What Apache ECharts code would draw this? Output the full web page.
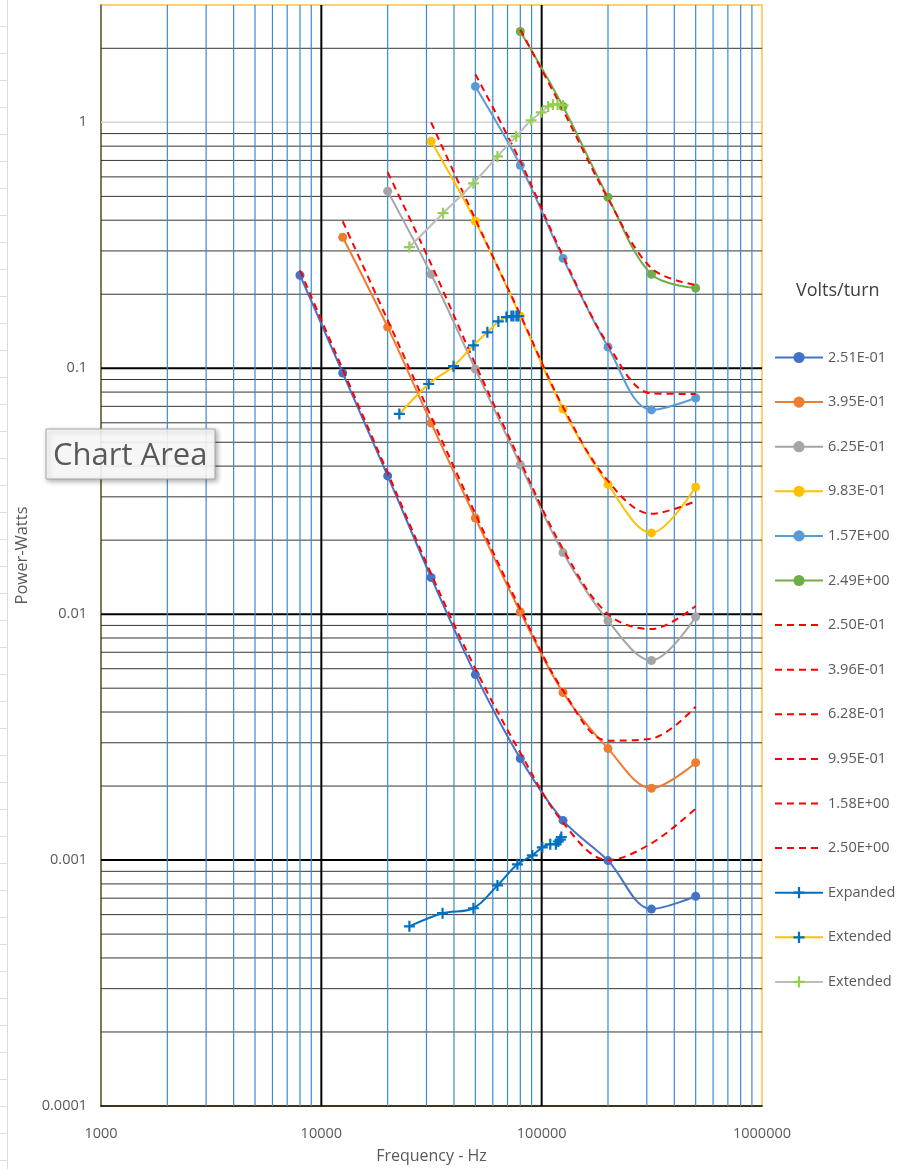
<!DOCTYPE html>
<html>
<head>
<meta charset="utf-8">
<script src="https://cdn.jsdelivr.net/npm/echarts@6/dist/echarts.min.js"></script>
<style>
  html, body { margin: 0; padding: 0; background: #ffffff; }
  #chart { width: 898px; height: 1169px; }
</style>
</head>
<body>
<div id="chart"></div>
<script>
// ---- Data -------------------------------------------------------------
// Test frequencies (Hz); every curve ends at the last one.
const freqs = [8000, 12500, 20000, 31500, 50000, 80000, 125000, 200000, 315000, 500000];

// Measured power (W) per volts/turn level
const p251 = [0.239, 0.0957, 0.0365, 0.0141, 0.00568, 0.00259, 0.00145, 0.000995, 0.000632, 0.000713];
const p395 = [0.341, 0.147, 0.0599, 0.0246, 0.0102, 0.0048, 0.00284, 0.00196, 0.00249];
const p625 = [0.525, 0.241, 0.0993, 0.0405, 0.0178, 0.0094, 0.00648, 0.00975];
const p983 = [0.837, 0.396, 0.163, 0.0683, 0.0337, 0.0214, 0.0329];
const p157 = [1.40, 0.669, 0.280, 0.122, 0.0677, 0.0757];
const p249 = [2.34, 1.16, 0.496, 0.241, 0.212];

// Calculated power (W) per volts/turn level
const t250 = [0.250, 0.099, 0.0376, 0.0146, 0.0060, 0.00273, 0.00142, 0.00100, 0.00117, 0.00162];
const t396 = [0.396, 0.157, 0.0636, 0.0256, 0.0105, 0.0049, 0.00306, 0.00312, 0.00421];
const t628 = [0.627, 0.265, 0.104, 0.0419, 0.0184, 0.0100, 0.0087, 0.0108];
const t995 = [1.00, 0.404, 0.165, 0.0696, 0.0348, 0.0256, 0.0288];
const t158 = [1.57, 0.694, 0.286, 0.125, 0.079, 0.0786];
const t250b = [2.38, 1.12, 0.49, 0.255, 0.218];

// Expanded / extended sweeps
const fExpanded = [25100, 35500, 49000, 63000, 77600, 90700, 100700, 109400, 116000, 119000, 121500, 122800];
const pExpanded = [0.000538, 0.000608, 0.000637, 0.000789, 0.000961, 0.001045, 0.001127, 0.00116, 0.00116, 0.00119, 0.00121, 0.00124];
const fExtY = [22600, 30700, 39800, 49000, 56700, 63600, 69200, 72900, 74400, 76800, 78400];
const pExtY = [0.0652, 0.0863, 0.102, 0.124, 0.140, 0.155, 0.1615, 0.163, 0.163, 0.163, 0.163];
const fExtG = [25100, 35700, 49000, 63000, 76600, 89500, 99600, 107000, 112600, 118000, 125000];
const pExtG = [0.311, 0.427, 0.565, 0.727, 0.877, 1.019, 1.098, 1.161, 1.183, 1.183, 1.172];

// Series names (legend order)
const measuredNames = ['2.51E-01', '3.95E-01', '6.25E-01', '9.83E-01', '1.57E+00', '2.49E+00'];
const calcNames = ['2.50E-01', '3.96E-01', '6.28E-01', '9.95E-01', '1.58E+00', '2.50E+00'];
const sweepNames = ['Expanded', 'Extended', 'Extended\u200B'];

// Axis tick labels (one per decade)
const xTickLabels = ['1000', '10000', '100000', '1000000'];   // 10^3 .. 10^6
const yTickLabels = ['0.0001', '0.001', '0.01', '0.1', '1'];  // 10^-4 .. 10^0

// ---- Helpers ----------------------------------------------------------
const FONT = "'Open Sans', 'Liberation Sans', sans-serif";
const tail = vals => vals.map((v, i) => [freqs[freqs.length - vals.length + i], v]);
const zip = (xs, ys) => xs.map((x, i) => [x, ys[i]]);
const decadeFormatter = (labels, firstExp) => v => {
  const e = Math.log10(v);
  const r = Math.round(e);
  return Math.abs(e - r) < 1e-6 ? (labels[r - firstExp] || '') : '';
};
const PLUS = 'path://M4,0H6V4H10V6H6V10H4V6H0V4H4Z';

// Grid lines: decades plus 2..9 subdivisions
// kind: 0 = minor, 1 = major, 2 = unity line
const hLines = [];
for (let e = -4; e <= 0; e++) {
  const base = Math.pow(10, e);
  if (e > -4) hLines.push([1000, base, e === 0 ? 2 : 1]);
  for (let m = 2; m <= 9; m++) {
    const v = m * base;
    if (v < 3 - 1e-9) hLines.push([1000, +v.toPrecision(6), 0]);
  }
}
const vLines = [];
for (let e = 3; e <= 5; e++) {
  const base = Math.pow(10, e);
  if (e > 3) vLines.push([base, 1, 1]);
  for (let m = 2; m <= 9; m++) vLines.push([m * base, 1, 0]);
}

function hRender(params, api) {
  const cs = params.coordSys;
  const y = api.coord([1000, api.value(1)])[1];
  const kind = api.value(2);
  const style = kind === 1 ? { stroke: '#000000', lineWidth: 2 }
              : kind === 2 ? { stroke: '#d4d4d4', lineWidth: 1.5 }
              : { stroke: '#353535', lineWidth: 1 };
  return { type: 'line', shape: { x1: cs.x, y1: y, x2: cs.x + cs.width, y2: y }, style };
}
function vRender(params, api) {
  const cs = params.coordSys;
  const x = api.coord([api.value(0), 1])[0];
  const kind = api.value(2);
  const style = kind === 1 ? { stroke: '#000000', lineWidth: 2 }
              : { stroke: '#3a8ad6', lineWidth: 1.2 };
  return { type: 'line', shape: { x1: x, y1: cs.y, x2: x, y2: cs.y + cs.height }, style };
}

// ---- Series -----------------------------------------------------------
const measuredColors = ['#4472c4', '#ed7d31', '#a5a5a5', '#ffc000', '#5b9bd5', '#70ad47'];
const measuredData = [p251, p395, p625, p983, p157, p249];
const calcData = [t250, t396, t628, t995, t158, t250b];

const series = [
  { type: 'custom', name: 'hgrid', data: hLines, renderItem: hRender, silent: true, z: 1,
    encode: { x: 0, y: 1 }, clip: false },
  { type: 'custom', name: 'vgrid', data: vLines, renderItem: vRender, silent: true, z: 1,
    encode: { x: 0, y: 1 }, clip: false }
];

measuredData.forEach((vals, i) => {
  series.push({
    name: measuredNames[i], type: 'line', data: tail(vals), smooth: 0.35,
    symbol: 'circle', symbolSize: 9, z: 3,
    itemStyle: { color: measuredColors[i] },
    lineStyle: { color: measuredColors[i], width: 2 }
  });
});
calcData.forEach((vals, i) => {
  series.push({
    name: calcNames[i], type: 'line', data: tail(vals), smooth: 0.35,
    symbol: 'circle', showSymbol: false, z: 4,
    itemStyle: { color: '#ff0000' },
    lineStyle: { color: '#ff0000', width: 2, type: [7, 5] }
  });
});
series.push({
  name: sweepNames[0], type: 'line', data: zip(fExpanded, pExpanded), smooth: 0.35,
  symbol: PLUS, symbolSize: 11, z: 5,
  itemStyle: { color: '#0070c0' }, lineStyle: { color: '#0070c0', width: 2 }
});
series.push({
  name: sweepNames[1], type: 'line', data: zip(fExtY, pExtY), smooth: 0.35,
  symbol: PLUS, symbolSize: 11, z: 5,
  itemStyle: { color: '#0070c0' }, lineStyle: { color: '#ffc000', width: 2 }
});
series.push({
  name: sweepNames[2], type: 'line', data: zip(fExtG, pExtG), smooth: 0.35,
  symbol: PLUS, symbolSize: 11, z: 5,
  itemStyle: { color: '#92d050' }, lineStyle: { color: '#bdbdbd', width: 2 }
});

// Legend entries: the calculated curves show a plain dashed line
const legendData = measuredNames
  .concat(calcNames.map(n => ({ name: n, itemStyle: { opacity: 0 } })))
  .concat(sweepNames);

// ---- Chart ------------------------------------------------------------
const sheetRows = [];
for (let y = 26; y < 1169; y += 27) {
  sheetRows.push({ type: 'line', shape: { x1: 0, y1: y + 0.5, x2: 7, y2: y + 0.5 },
                   style: { stroke: '#dcdcdc', lineWidth: 1 }, silent: true });
}

const chart = echarts.init(document.getElementById('chart'), null, { renderer: 'canvas' });
chart.setOption({
  animation: false,
  backgroundColor: '#ffffff',
  textStyle: { fontFamily: FONT },
  grid: { left: 101, right: 136, top: 5, bottom: 61, show: true,
          borderColor: '#fcc33c', borderWidth: 1.5, backgroundColor: 'transparent' },
  xAxis: {
    type: 'log', logBase: 10, min: 1000, max: 1000000,
    name: 'Frequency - Hz', nameLocation: 'middle', nameGap: 42,
    nameTextStyle: { color: '#595959', fontSize: 16, fontFamily: FONT },
    axisLine: { show: true, lineStyle: { color: '#000000', width: 1.5 } },
    axisTick: { show: false },
    splitLine: { show: false },
    axisLabel: { formatter: decadeFormatter(xTickLabels, 3), color: '#595959',
                 fontSize: 14.5, margin: 20, interval: 0, showMinLabel: true, showMaxLabel: true }
  },
  yAxis: {
    type: 'log', logBase: 10, min: 0.0001, max: 3,
    name: 'Power-Watts', nameLocation: 'middle', nameGap: 70,
    nameTextStyle: { color: '#595959', fontSize: 16.5, fontFamily: FONT },
    axisLine: { show: true, lineStyle: { color: '#595959', width: 1.5 } },
    axisTick: { show: false },
    splitLine: { show: false },
    axisLabel: { formatter: decadeFormatter(yTickLabels, -4), color: '#595959',
                 fontSize: 14.5, margin: 14, interval: 0, showMinLabel: true, showMaxLabel: false }
  },
  legend: {
    orient: 'vertical', left: 774, top: 350, padding: 0,
    itemWidth: 48, itemHeight: 14, itemGap: 29.6,
    textStyle: { color: '#595959', fontSize: 14.5, fontFamily: FONT },
    data: legendData,
    selectedMode: false
  },
  graphic: [
    { type: 'line', shape: { x1: 7.5, y1: 0, x2: 7.5, y2: 1169 },
      style: { stroke: '#dcdcdc', lineWidth: 1 }, silent: true },
    ...sheetRows,
    { type: 'text', left: 796, top: 282, z: 50,
      style: { text: 'Volts/turn', fill: '#404040', font: "18px " + FONT } },
    { type: 'rect', z: 100, silent: true,
      shape: { x: 46, y: 429, width: 169, height: 50 },
      style: { fill: 'rgba(255,255,255,0.88)', stroke: '#a6a6a6', lineWidth: 1,
               shadowBlur: 5, shadowOffsetX: 2, shadowOffsetY: 2, shadowColor: 'rgba(0,0,0,0.35)' } },
    { type: 'text', z: 101, x: 53, y: 456, silent: true,
      style: { text: 'Chart Area', fill: '#595959', font: "31px " + FONT, verticalAlign: 'middle' } }
  ],
  series
});
</script>
</body>
</html>
